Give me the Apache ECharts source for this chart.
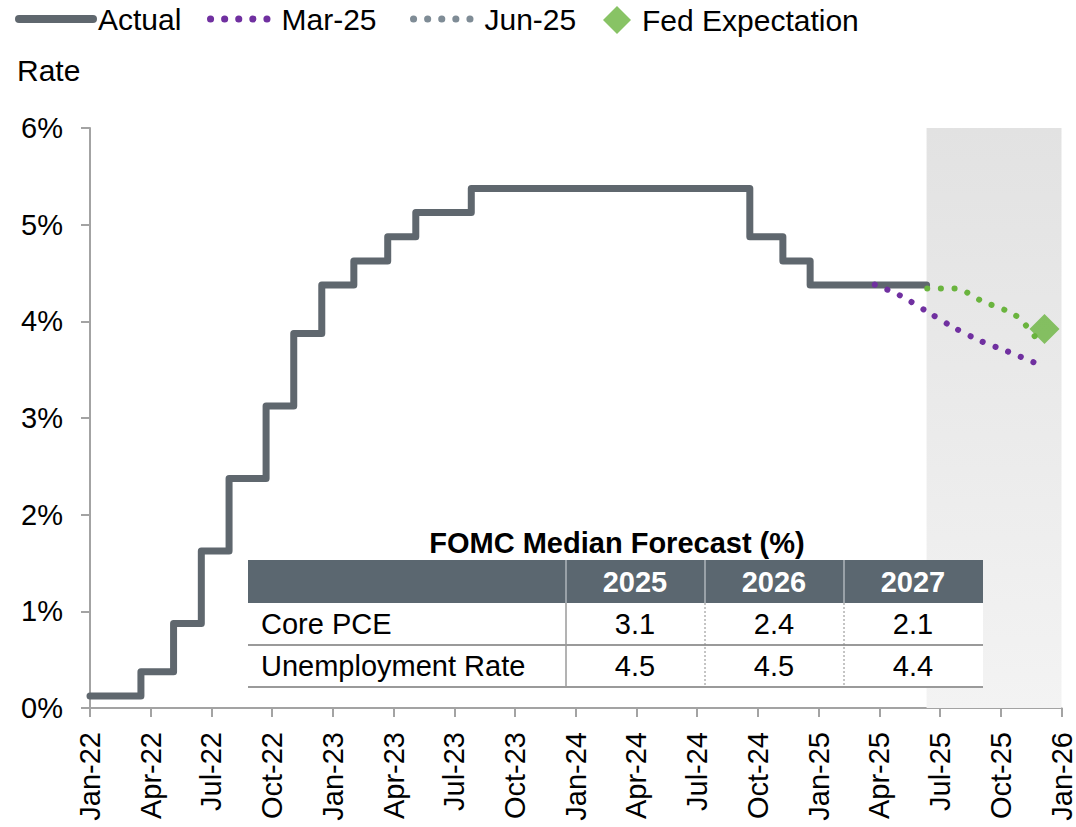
<!DOCTYPE html>
<html>
<head>
<meta charset="utf-8">
<script src="https://cdn.jsdelivr.net/npm/echarts@6/dist/echarts.min.js"></script>
<style>
  html, body { margin: 0; padding: 0; background: #fff; }
  #chart { width: 1076px; height: 827px; }
</style>
</head>
<body>
<div id="chart"></div>
<script>
// --- data ---
const tickLabels = ['Jan-22', 'Apr-22', 'Jul-22', 'Oct-22', 'Jan-23', 'Apr-23', 'Jul-23', 'Oct-23',
  'Jan-24', 'Apr-24', 'Jul-24', 'Oct-24', 'Jan-25', 'Apr-25', 'Jul-25', 'Oct-25', 'Jan-26'];

const actualDates = ['2022-01-01', '2022-03-17', '2022-05-05', '2022-06-16', '2022-07-28', '2022-09-22',
  '2022-11-03', '2022-12-15', '2023-02-02', '2023-03-23', '2023-05-04', '2023-07-27',
  '2024-09-19', '2024-11-08', '2024-12-19', '2025-06-11'];
const actualRates = [0.125, 0.375, 0.875, 1.625, 2.375, 3.125, 3.875, 4.375, 4.625, 4.875, 5.125, 5.375,
  4.875, 4.625, 4.375, 4.375];

const mar25Dates = ['2025-03-25', '2025-05-01', '2025-06-12', '2025-07-21', '2025-08-31', '2025-10-11', '2025-11-22'];
const mar25Rates = [4.38, 4.27, 4.10, 3.94, 3.80, 3.69, 3.57];

const jun25Dates = ['2025-06-12', '2025-07-24', '2025-09-03', '2025-10-24', '2025-11-23'];
const jun25Rates = [4.34, 4.34, 4.21, 4.06, 3.83];

const fedDates = ['2025-12-06'];
const fedRates = [3.92];

const shadeStart = '2025-06-11';

const tableYears = ['2025', '2026', '2027'];
const tableRows = ['Core PCE', 'Unemployment Rate'];
const corePce = [3.1, 2.4, 2.1];
const unemployment = [4.5, 4.5, 4.4];

// --- helpers ---
// months since Jan-22 (fractional)
function toMonth(s) {
  const p = s.split('-').map(Number);
  const dim = new Date(p[0], p[1], 0).getDate();
  return (p[0] - 2022) * 12 + (p[1] - 1) + (p[2] - 1) / dim;
}
function pairs(dates, vals) {
  return dates.map((d, i) => [toMonth(d), vals[i]]);
}

const FONT = '"Liberation Sans", Arial, sans-serif';
const GREY = '#5f676e';
const PURPLE = '#7030a0';
const GREEN = '#6ab43e';
const LEGEND_GREY = '#7f8c96';
const AXIS = '#a3a3a3';
const DOTS = [0.1, 13.5];

// --- table graphic ---
const tLeft = 248, tRight = 983, colX = [566, 705, 844];
const hTop = 560, hBot = 603, r1Bot = 645, r2Bot = 687;
const colCenters = [635, 774, 913];
const rowVals = [corePce, unemployment];
const rowMid = [624, 666];

const graphics = [];
graphics.push({ type: 'rect', shape: { x: tLeft, y: hBot, width: tRight - tLeft, height: r2Bot - hBot }, style: { fill: '#fff' }, z: 10 });
graphics.push({ type: 'rect', shape: { x: tLeft, y: hTop, width: tRight - tLeft, height: hBot - hTop }, style: { fill: '#5b6770' }, z: 11 });
graphics.push({
  type: 'text', z: 12,
  style: { text: 'FOMC Median Forecast (%)', x: 617, y: 543, textAlign: 'center', textVerticalAlign: 'middle',
    font: 'bold 29px ' + FONT, fill: '#000' }
});
colX.forEach(x => {
  graphics.push({ type: 'line', z: 12, shape: { x1: x, y1: hTop, x2: x, y2: hBot }, style: { stroke: '#d8dcdf', lineWidth: 1 } });
});
tableYears.forEach((yr, i) => {
  graphics.push({
    type: 'text', z: 12,
    style: { text: yr, x: colCenters[i], y: 582, textAlign: 'center', textVerticalAlign: 'middle',
      font: 'bold 29px ' + FONT, fill: '#fff' }
  });
});
// row separators
[r1Bot, r2Bot].forEach(y => {
  graphics.push({ type: 'line', z: 12, shape: { x1: tLeft, y1: y, x2: tRight, y2: y }, style: { stroke: '#9a9a9a', lineWidth: 2 } });
});
graphics.push({ type: 'line', z: 12, shape: { x1: colX[0], y1: hBot, x2: colX[0], y2: r2Bot }, style: { stroke: '#9a9a9a', lineWidth: 1.5 } });
[colX[1], colX[2]].forEach(x => {
  graphics.push({ type: 'line', z: 12, shape: { x1: x, y1: hBot, x2: x, y2: r2Bot }, style: { stroke: '#8a8a8a', lineWidth: 1, lineDash: [2, 2] } });
});
tableRows.forEach((name, r) => {
  graphics.push({
    type: 'text', z: 12,
    style: { text: name, x: 261, y: rowMid[r], textAlign: 'left', textVerticalAlign: 'middle',
      font: '29px ' + FONT, fill: '#000' }
  });
  rowVals[r].forEach((v, i) => {
    graphics.push({
      type: 'text', z: 12,
      style: { text: v.toFixed(1), x: colCenters[i], y: rowMid[r], textAlign: 'center', textVerticalAlign: 'middle',
        font: '29px ' + FONT, fill: '#000' }
    });
  });
});

const chart = echarts.init(document.getElementById('chart'), null, { renderer: 'svg' });

// hide the circle ECharts puts on line legend icons
const noDot = { opacity: 0 };
const legendText = { fontSize: 30, color: '#000', fontFamily: FONT };

function lineLegend(name, left, width, lineStyle, color) {
  const item = { name: name, itemStyle: noDot };
  if (color) item.lineStyle = { color: color };
  return {
    left: left, top: 4, padding: 0, itemWidth: width, itemHeight: 30,
    textStyle: legendText,
    lineStyle: lineStyle,
    data: [item]
  };
}

chart.setOption({
  animation: false,
  textStyle: { fontFamily: FONT },
  title: {
    text: 'Rate', left: 12, top: 50,
    textStyle: { fontSize: 30, fontWeight: 'normal', color: '#000', fontFamily: FONT }
  },
  legend: [
    lineLegend('Actual', 15, 74, { width: 8, cap: 'round' }),
    lineLegend('Mar-25', 207, 66, { width: 7, type: [0.1, 14], cap: 'round' }),
    lineLegend('Jun-25', 410, 66, { width: 7, type: [0.1, 14], cap: 'round' }, LEGEND_GREY),
    {
      left: 603, top: 5, padding: 0, itemWidth: 28, itemHeight: 28,
      textStyle: Object.assign({ padding: [0, 0, 0, 6] }, legendText),
      data: ['Fed Expectation']
    }
  ],
  grid: { left: 90, right: 14, top: 128, bottom: 119 },
  xAxis: {
    type: 'value', min: 0, max: 48, interval: 3,
    splitLine: { show: false },
    axisLine: { lineStyle: { color: AXIS, width: 2 } },
    axisTick: { length: 9, lineStyle: { color: AXIS, width: 2 } },
    axisLabel: {
      rotate: 90, margin: 24, fontSize: 29, color: '#000', fontFamily: FONT,
      formatter: v => tickLabels[Math.round(v / 3)]
    }
  },
  yAxis: {
    type: 'value', min: 0, max: 6, interval: 1,
    splitLine: { show: false },
    axisLine: { show: true, lineStyle: { color: AXIS, width: 2 } },
    axisTick: { show: true, length: 9, lineStyle: { color: AXIS, width: 2 } },
    axisLabel: { margin: 27, fontSize: 29, color: '#000', fontFamily: FONT, formatter: '{value}%' }
  },
  series: [
    {
      name: 'Actual', type: 'line', step: 'end', symbol: 'none', z: 3,
      lineStyle: { color: GREY, width: 7, cap: 'round', join: 'round' },
      itemStyle: { color: GREY },
      data: pairs(actualDates, actualRates),
      markArea: {
        silent: true,
        itemStyle: {
          color: new echarts.graphic.LinearGradient(0, 0, 0, 1, [
            { offset: 0, color: '#e2e2e2' }, { offset: 1, color: '#f3f3f3' }
          ])
        },
        data: [[{ xAxis: toMonth(shadeStart), yAxis: 0 }, { xAxis: 48, yAxis: 6 }]]
      }
    },
    {
      name: 'Mar-25', type: 'line', smooth: 0.3, symbol: 'none', z: 4,
      lineStyle: { color: PURPLE, width: 6, type: DOTS, cap: 'round' },
      itemStyle: { color: PURPLE },
      data: pairs(mar25Dates, mar25Rates)
    },
    {
      name: 'Jun-25', type: 'line', smooth: 0.3, symbol: 'none', z: 4,
      lineStyle: { color: GREEN, width: 6, type: DOTS, cap: 'round' },
      itemStyle: { color: LEGEND_GREY },
      data: pairs(jun25Dates, jun25Rates)
    },
    {
      name: 'Fed Expectation', type: 'scatter', symbol: 'diamond', symbolSize: 30, z: 5,
      itemStyle: { color: GREEN },
      data: pairs(fedDates, fedRates)
    }
  ],
  graphic: graphics
});
</script>
</body>
</html>
